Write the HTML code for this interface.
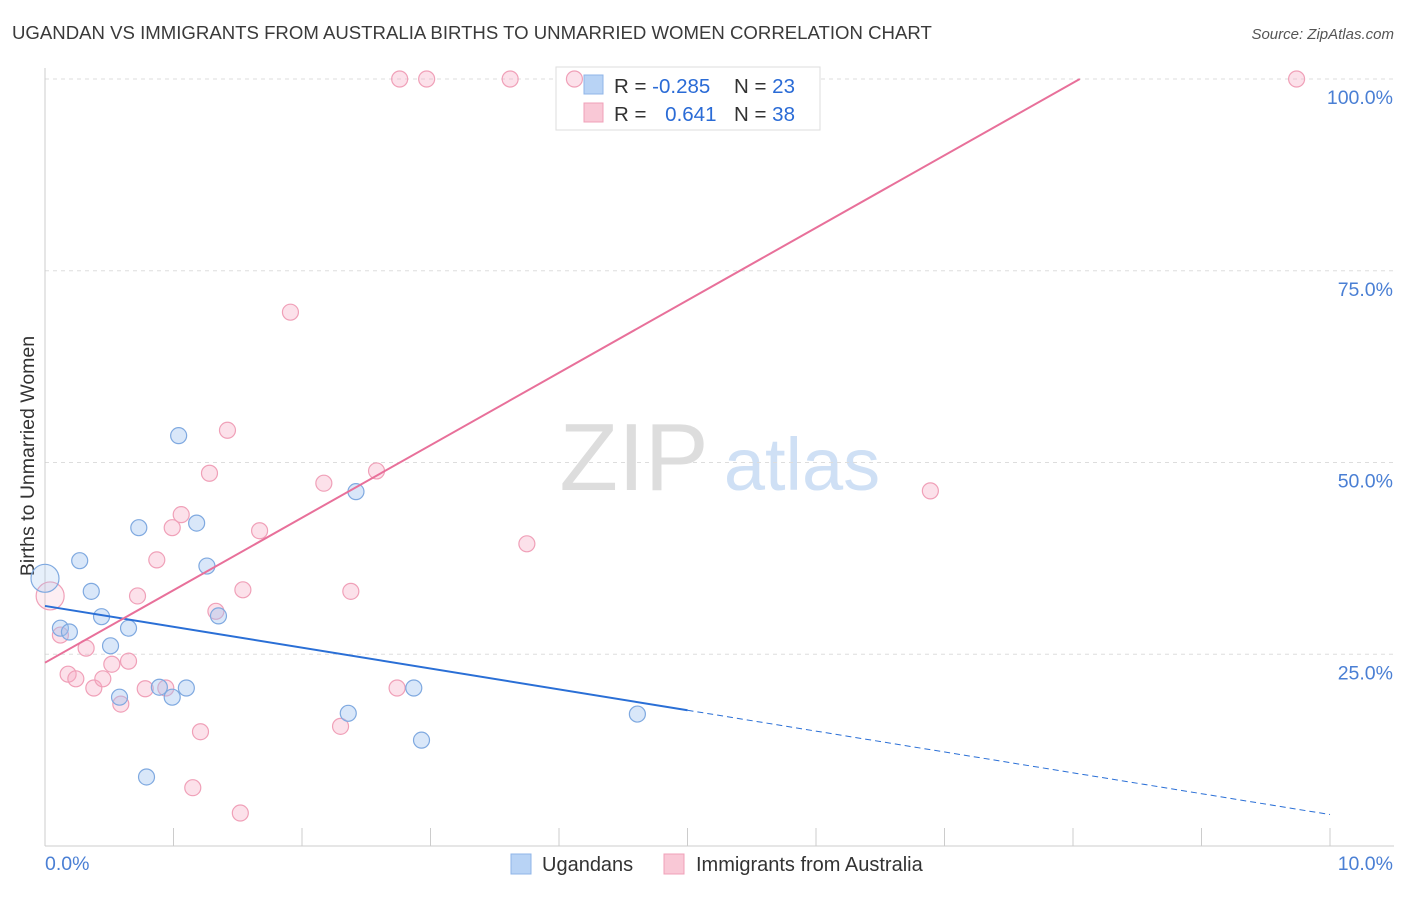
<!DOCTYPE html>
<html><head><meta charset="utf-8"><style>
body{margin:0;background:#fff;font-family:"Liberation Sans",sans-serif;}
svg text{font-family:"Liberation Sans",sans-serif;}
</style></head><body>
<svg id="chart" width="1406" height="892" xmlns="http://www.w3.org/2000/svg">
<text x="12" y="39" font-size="18.6" fill="#3a3a3a">UGANDAN VS IMMIGRANTS FROM AUSTRALIA BIRTHS TO UNMARRIED WOMEN CORRELATION CHART</text>
<text x="1394" y="39" font-size="15" fill="#555" text-anchor="end" font-style="italic">Source: ZipAtlas.com</text>
<g>
<text x="634" y="490" font-size="96" fill="#ddd" text-anchor="middle" font-family="Liberation Serif">ZIP</text>
<text x="802" y="490" font-size="74" fill="#cfe0f5" text-anchor="middle">atlas</text>
</g>
<g id="grid"></g>
<g id="axes"></g>
<text transform="translate(34,456) rotate(-90)" font-size="19.5" fill="#333" text-anchor="middle">Births to Unmarried Women</text>
<g>
<rect x="556" y="67" width="264" height="63" fill="#fff" stroke="#ddd"/>
<rect x="584" y="75" width="19" height="19" fill="#b8d3f5" stroke="#8fb5e8"/>
<rect x="584" y="103" width="19" height="19" fill="#f9c8d6" stroke="#f0a0b8"/>
<text x="614" y="93" font-size="20.5" fill="#333">R = <tspan fill="#2a6bd6">-0.285</tspan></text>
<text x="734" y="93" font-size="20.5" fill="#333">N = <tspan fill="#2a6bd6">23</tspan></text>
<text x="614" y="121" font-size="20.5" fill="#333">R = <tspan fill="#2a6bd6" dx="13">0.641</tspan></text>
<text x="734" y="121" font-size="20.5" fill="#333">N = <tspan fill="#2a6bd6">38</tspan></text>
</g>
<g id="marks"></g>
<g>
<rect x="511" y="854" width="20" height="20" fill="#b8d3f5" stroke="#8fb5e8"/>
<text x="542" y="871" font-size="20" fill="#333">Ugandans</text>
<rect x="664" y="854" width="20" height="20" fill="#f9c8d6" stroke="#f0a0b8"/>
<text x="696" y="871" font-size="20" fill="#333">Immigrants from Australia</text>
</g>
</svg>
<script>
const xTicks=[0,1,2,3,4,5,6,7,8,9,10];
const yTicks=[25,50,75,100];
const yTickLabels=["25.0%","50.0%","75.0%","100.0%"];
const blueX=[0.00,0.27,0.36,0.12,0.19,0.44,0.51,0.65,0.73,1.04,1.18,1.26,1.35,0.58,0.89,0.99,1.10,0.79,2.42,2.36,2.87,2.93,4.61];
const blueY=[34.9,37.2,33.2,28.4,27.9,29.9,26.1,28.4,41.5,53.5,42.1,36.5,30.0,19.4,20.7,19.4,20.6,9.0,46.2,17.3,20.6,13.8,17.2];
const blueR=[14,8,8,8,8,8,8,8,8,8,8,8,8,8,8,8,8,8,8,8,8,8,8];
const pinkX=[0.04,0.12,0.18,0.24,0.32,0.38,0.45,0.52,0.59,0.65,0.72,0.78,0.87,0.94,0.99,1.06,1.15,1.21,1.28,1.33,1.42,1.54,1.67,1.91,2.17,2.30,2.38,2.58,2.74,2.76,2.97,3.62,3.75,4.12,6.89,9.74,1.52];
const pinkY=[32.6,27.5,22.4,21.8,25.8,20.6,21.8,23.7,18.5,24.1,32.6,20.5,37.3,20.6,41.5,43.2,7.6,14.9,48.6,30.6,54.2,33.4,41.1,69.6,47.3,15.6,33.2,48.9,20.6,100,100,100,39.4,100,46.3,100,4.3];
const blueTrend=[31.3,-2.72];
const pinkTrend=[23.9,9.45];
const NS="http://www.w3.org/2000/svg";
const X=v=>45+v*128.5, Y=v=>846-v*7.67;
function mk(t,a,p){const e=document.createElementNS(NS,t);for(const k in a)e.setAttribute(k,a[k]);p.appendChild(e);return e;}
const grid=document.getElementById('grid'),axes=document.getElementById('axes'),marks=document.getElementById('marks');
yTicks.forEach((t,i)=>{
 const l=mk('line',{x1:45,x2:1394,y1:Y(t),y2:Y(t),stroke:'#ddd','stroke-dasharray':'4,4'},grid);
 
 
 const tx=mk('text',{x:1393,y:Y(t)+25,'font-size':19.5,fill:'#4a7fd4','text-anchor':'end'},axes);tx.textContent=yTickLabels[i];
 
 
});
const ax=mk('line',{x1:45,x2:1394,y1:846,y2:846,stroke:'#ccc'},axes);


const ay=mk('line',{x1:45,x2:45,y1:68,y2:846,stroke:'#ccc'},axes);


xTicks.forEach(t=>{const l=mk('line',{x1:X(t),x2:X(t),y1:828,y2:846,stroke:'#ccc'},axes);
 
 });
let t0=mk('text',{x:45,y:870,'font-size':19.5,fill:'#4a7fd4'},axes);t0.textContent='0.0%';


let t1=mk('text',{x:1393,y:870,'font-size':19.5,fill:'#4a7fd4','text-anchor':'end'},axes);t1.textContent='10.0%';


pinkX.forEach((x,i)=>{const c=mk('circle',{cx:X(x),cy:Y(pinkY[i]),r:i==0?14:8,fill:i==0?'rgba(245,170,195,0.2)':'rgba(245,170,195,0.35)',stroke:'#f0a0b8','stroke-width':1.2},marks);
 
 });
blueX.forEach((x,i)=>{const c=mk('circle',{cx:X(x),cy:Y(blueY[i]),r:blueR[i],fill:blueR[i]>8?'rgba(160,196,240,0.25)':'rgba(160,196,240,0.4)',stroke:'#7fa9e0','stroke-width':1.2},marks);
 
 });
const bl=mk('line',{x1:X(0),y1:Y(blueTrend[0]),x2:X(5),y2:Y(blueTrend[0]+blueTrend[1]*5),stroke:'#2a6fd6','stroke-width':2},marks);


const bd=mk('line',{x1:X(5),y1:Y(blueTrend[0]+blueTrend[1]*5),x2:X(10),y2:Y(blueTrend[0]+blueTrend[1]*10),stroke:'#2a6fd6','stroke-width':1,'stroke-dasharray':'6,4'},marks);


const xe=(100-pinkTrend[0])/pinkTrend[1];
const pl=mk('line',{x1:X(0),y1:Y(pinkTrend[0]),x2:X(xe),y2:Y(100),stroke:'#e8709a','stroke-width':2},marks);


</script>
</body></html>
